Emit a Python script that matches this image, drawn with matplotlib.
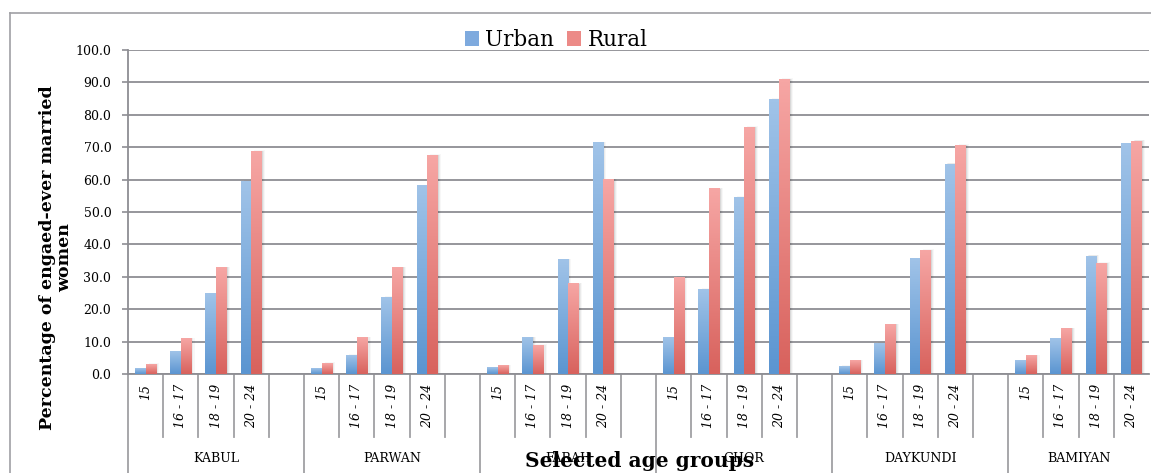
import numpy as np
import matplotlib
matplotlib.use("Agg")
import matplotlib.pyplot as plt
from matplotlib.colors import LinearSegmentedColormap
from matplotlib.lines import Line2D
from matplotlib.patches import Patch, Rectangle
import matplotlib.transforms as mtransforms

provinces = ["KABUL", "PARWAN", "FARAH", "GHOR", "DAYKUNDI", "BAMIYAN"]
ages = ["15", "16 - 17", "18 - 19", "20 - 24"]

urban = [
    [1.6, 6.9, 24.8, 59.5],
    [1.6, 5.8, 23.7, 58.2],
    [2.0, 11.3, 35.2, 71.3],
    [11.3, 26.2, 54.6, 84.8],
    [2.4, 9.5, 35.5, 64.8],
    [4.1, 10.9, 36.4, 71.0],
]
rural = [
    [3.0, 10.9, 32.9, 68.8],
    [3.3, 11.3, 32.9, 67.5],
    [2.6, 8.9, 27.8, 60.0],
    [29.9, 57.1, 76.2, 91.0],
    [4.1, 15.2, 38.2, 70.6],
    [5.7, 14.0, 34.2, 71.9],
]

serif = "DejaVu Serif"
grid_c = "#8e8e93"
blue_cm = LinearSegmentedColormap.from_list("b", ["#5b95d1", "#a0c3e8"])
red_cm = LinearSegmentedColormap.from_list("r", ["#d8625d", "#f6a6a4"])

W, H = 1151, 473
fig = plt.figure(figsize=(W / 100, H / 100), dpi=100)
ax = fig.add_axes([128 / W, 1 - 374 / H, (1149 - 128) / W, (374 - 50) / H])

# slot layout: 5 slots per province (4 ages + gap), last one has no gap
n_slots = len(provinces) * 5 - 1
grad = np.linspace(0, 1, 64).reshape(-1, 1)
bw = 0.3


def gbar(x0, h, cmap):
    # faint shadow to the right, then the gradient bar
    for k, al in [(0.03, 0.08), (0.06, 0.05), (0.09, 0.03)]:
        ax.add_patch(Rectangle((x0 + k, 0), bw, h + k * 3, facecolor="black",
                               alpha=al, lw=0, zorder=2))
    ax.imshow(grad, extent=[x0, x0 + bw, 0, h], origin="lower", cmap=cmap,
              aspect="auto", zorder=3, interpolation="bilinear")


xt, xl = [], []
for p in range(len(provinces)):
    for a in range(len(ages)):
        c = p * 5 + a + 0.5
        xt.append(c)
        xl.append(ages[a])
        gbar(c - bw, urban[p][a], blue_cm)
        gbar(c, rural[p][a], red_cm)

ax.set_xlim(0, n_slots)
ax.set_ylim(0, 100)
ax.set_yticks(np.arange(0, 101, 10))
ax.set_yticklabels(["%.1f" % v for v in np.arange(0, 101, 10)],
                   fontfamily=serif, fontsize=9)
ax.yaxis.grid(True, color=grid_c, lw=1.3, zorder=1)
ax.set_axisbelow(True)
ax.tick_params(axis="y", length=4, color=grid_c, width=1.2, pad=8)
ax.set_xticks(xt)
ax.set_xticklabels(xl, rotation=90, fontfamily=serif, fontstyle="italic",
                   fontsize=9)
ax.tick_params(axis="x", length=0, pad=7)
for s in ["top", "right"]:
    ax.spines[s].set_visible(False)
for s in ["left", "bottom"]:
    ax.spines[s].set_color(grid_c)
    ax.spines[s].set_linewidth(1.3)

# category separators below the axis
tr = mtransforms.blended_transform_factory(ax.transData, ax.transAxes)
for i in range(n_slots):
    y1 = -0.31 if i % 5 == 0 else -0.195
    ax.add_line(Line2D([i, i], [0, y1], transform=tr, color="#a0a0a4",
                       lw=1.3, clip_on=False))
for p, name in enumerate(provinces):
    width = 5 if p < len(provinces) - 1 else 4
    ax.text(p * 5 + width / 2, -0.26, name, transform=tr, ha="center",
            va="center", fontfamily=serif, fontsize=9)

fig.text(56 / W, 1 - 258 / H, "Percentage of engaed-ever married\nwomen",
         rotation=90, ha="center", va="center", fontfamily=serif,
         fontweight="bold", fontsize=12.5, linespacing=1.05)
fig.text(640 / W, 1 - 467 / H, "Selected age groups", ha="center",
         va="baseline", fontfamily=serif, fontweight="bold", fontsize=14.5)

handles = [Patch(facecolor="#7eaade"), Patch(facecolor="#ec8a87")]
fig.legend(handles, ["Urban", "Rural"], loc="center", ncol=2,
           bbox_to_anchor=(556 / W, 1 - 40 / H), frameon=False,
           prop={"family": serif, "size": 15.5}, handlelength=0.65,
           handleheight=0.65, handletextpad=0.3, columnspacing=0.6,
           borderpad=0)

# outer chart border
fig.add_artist(Line2D([10 / W, 10 / W], [0, 1 - 13 / H], color="#a0a0a4",
                      lw=1.2, transform=fig.transFigure))
fig.add_artist(Line2D([10 / W, 1], [1 - 13 / H, 1 - 13 / H], color="#a0a0a4",
                      lw=1.2, transform=fig.transFigure))

fig.savefig("out.png", dpi=100)
